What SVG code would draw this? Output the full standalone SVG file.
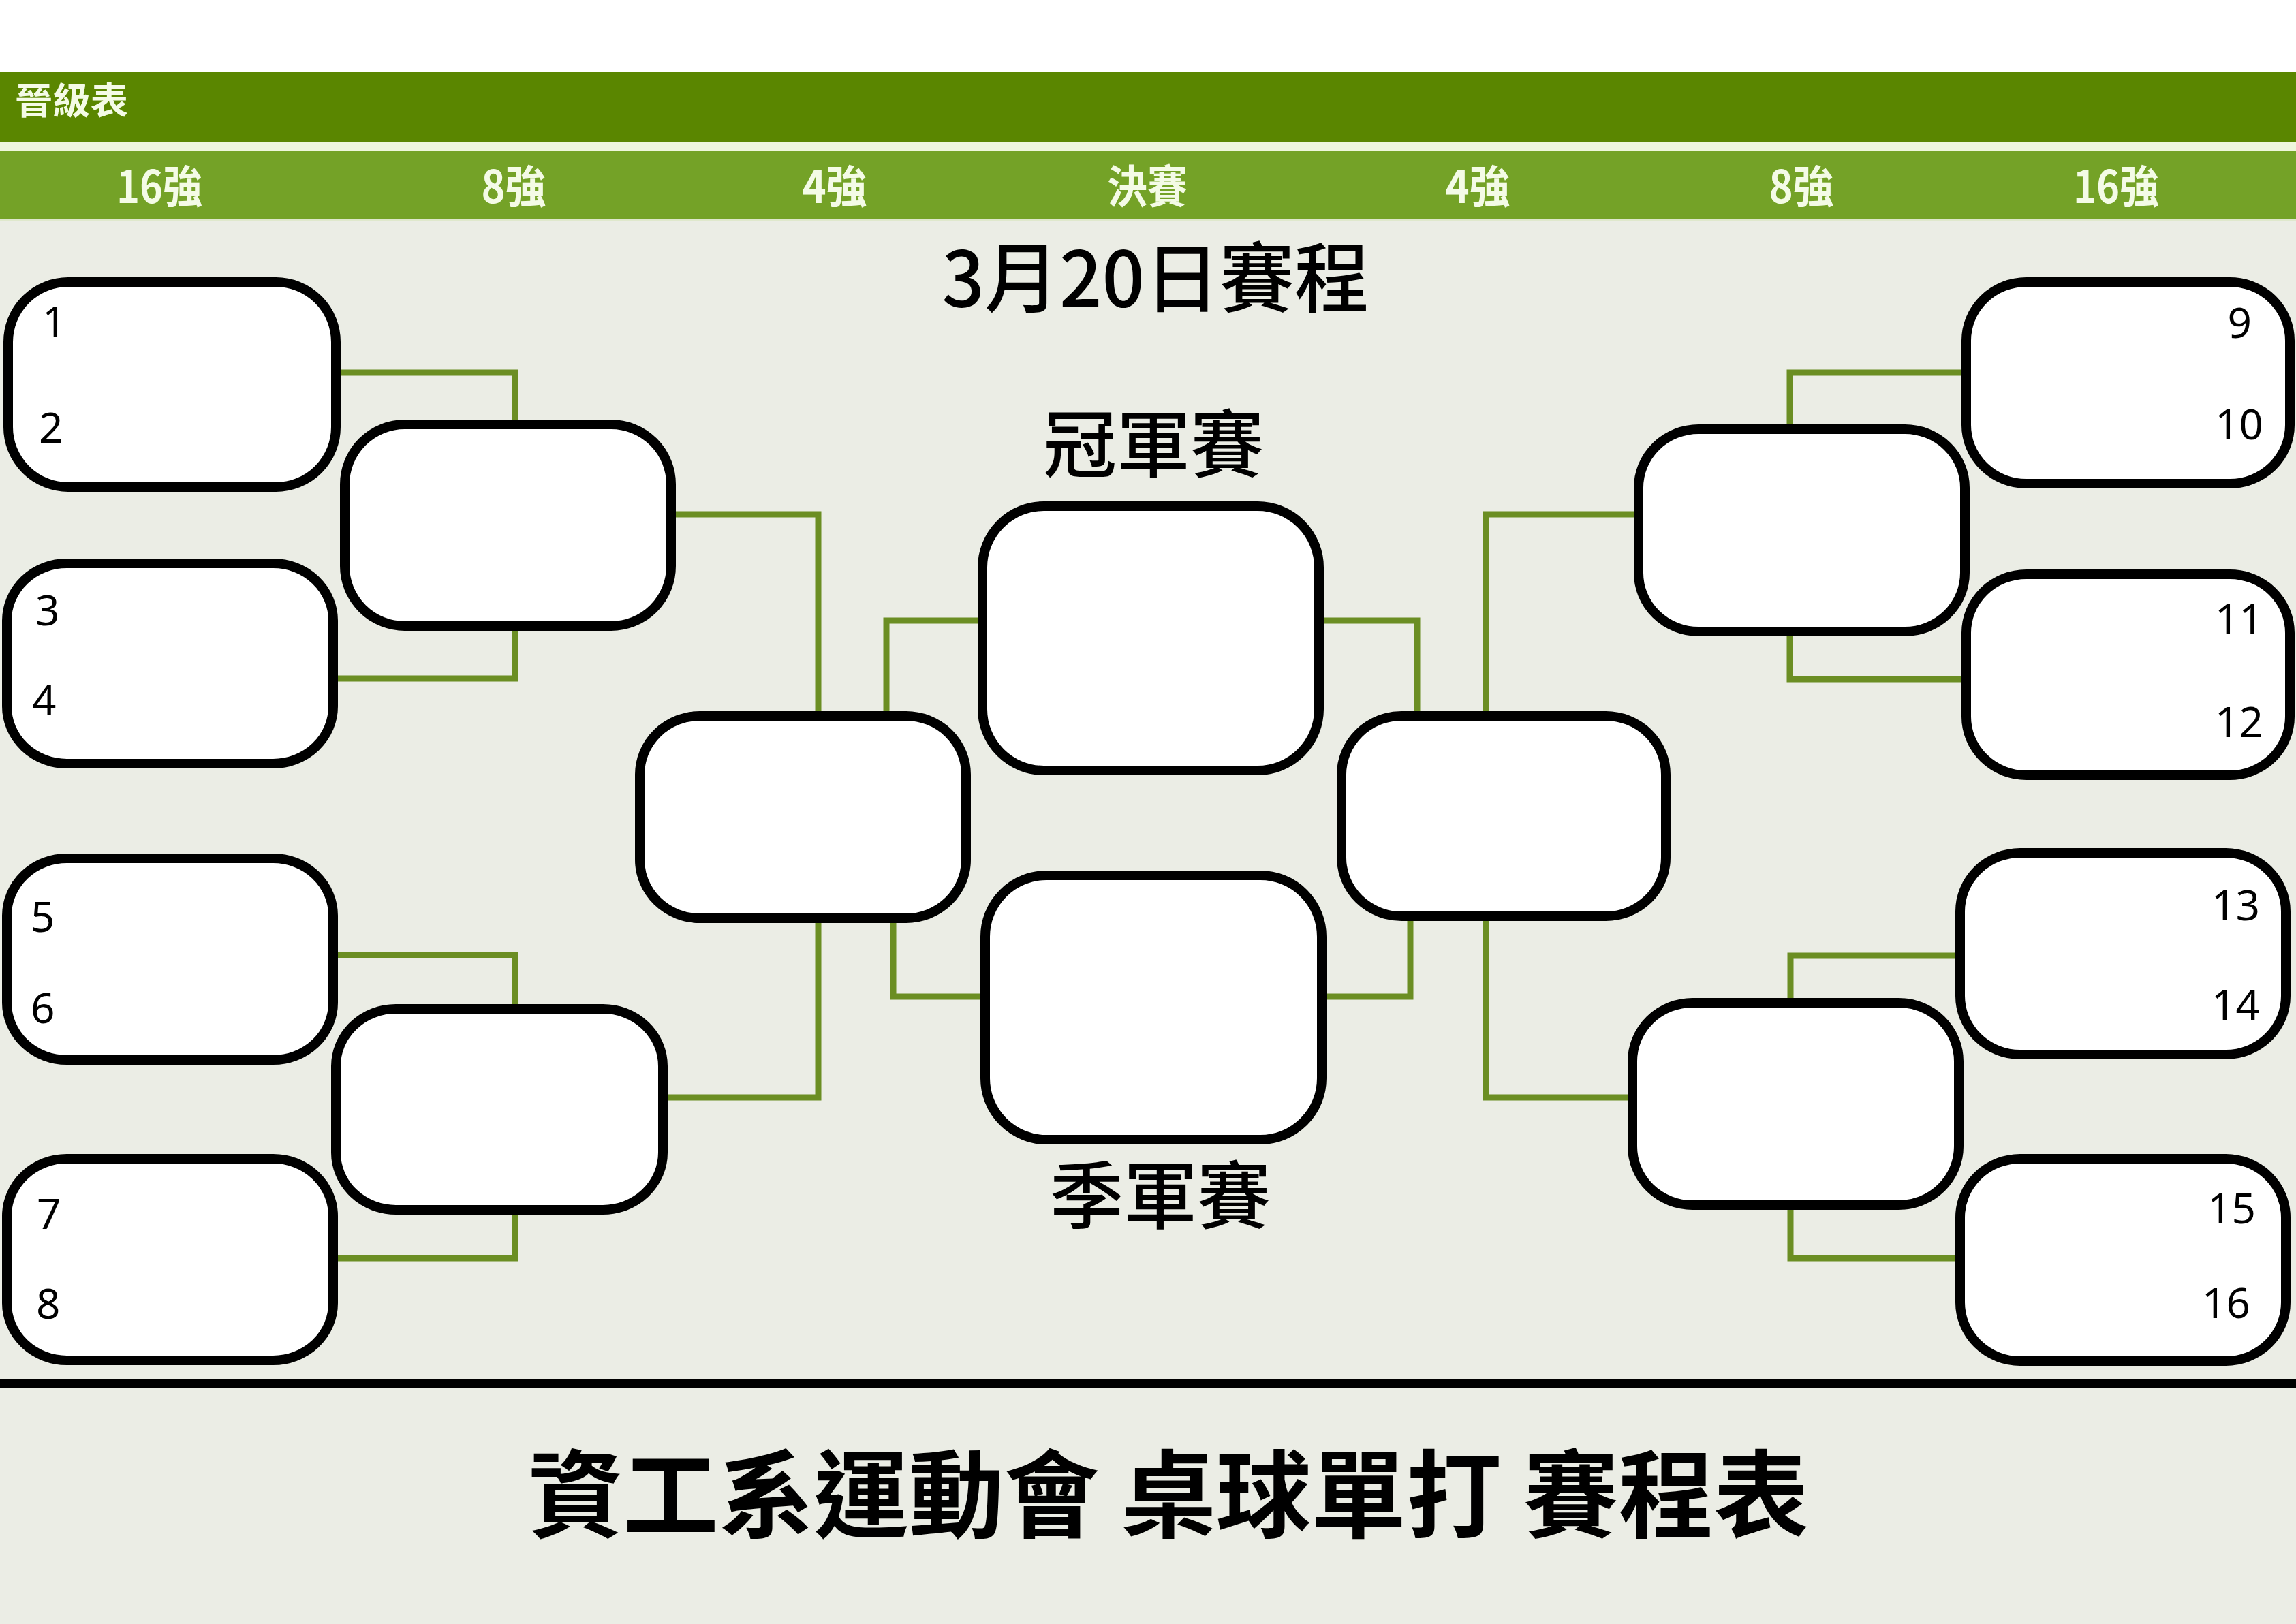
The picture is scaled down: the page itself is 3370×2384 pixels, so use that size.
<svg xmlns="http://www.w3.org/2000/svg" width="3370" height="2384" viewBox="0 0 3370 2384">
<style>
.box{fill:#ffffff;stroke:#000000;stroke-width:14}
.con{fill:none;stroke:#6b8e23;stroke-width:9;stroke-linejoin:miter;stroke-linecap:butt}
.num{font-family:"Noto Sans","Liberation Sans",sans-serif;font-size:62px;fill:#000}
.hdr{font-family:"Noto Sans CJK TC","Noto Sans CJK SC",sans-serif;font-weight:700;font-size:66px;fill:#f4fbe6;text-anchor:middle}
.big{font-family:"Noto Sans CJK TC","Noto Sans CJK SC",sans-serif;font-weight:700;fill:#000;text-anchor:middle}
.mid{font-family:"Noto Sans CJK TC","Noto Sans CJK SC",sans-serif;font-weight:500;fill:#000;text-anchor:middle}
</style>
<rect x="0" y="0" width="3370" height="2384" fill="#ebede5"/>
<rect x="0" y="0" width="3370" height="106" fill="#ffffff"/>
<rect x="0" y="106" width="3370" height="103" fill="#5a8600"/>
<rect x="0" y="209" width="3370" height="12" fill="#eef6dc"/>
<rect x="0" y="221" width="3370" height="100" fill="#74a227"/>
<rect x="0" y="321" width="3370" height="3" fill="#dfe8cc"/>
<text x="22" y="168" font-family="'Noto Sans CJK TC','Noto Sans CJK SC',sans-serif" font-weight="700" font-size="54" fill="#f4fbe6" textLength="166" lengthAdjust="spacingAndGlyphs">晉級表</text>
<g id="header-labels">
<text class="hdr" x="234" y="298" textLength="126" lengthAdjust="spacingAndGlyphs">16強</text>
<text class="hdr" x="754" y="298" textLength="95" lengthAdjust="spacingAndGlyphs">8強</text>
<text class="hdr" x="1225" y="298" textLength="95" lengthAdjust="spacingAndGlyphs">4強</text>
<text class="hdr" x="1684" y="298" textLength="118" lengthAdjust="spacingAndGlyphs">決賽</text>
<text class="hdr" x="2169" y="298" textLength="95" lengthAdjust="spacingAndGlyphs">4強</text>
<text class="hdr" x="2644" y="298" textLength="95" lengthAdjust="spacingAndGlyphs">8強</text>
<text class="hdr" x="3106" y="298" textLength="126" lengthAdjust="spacingAndGlyphs">16強</text>
</g>
<text class="mid" x="1696" y="450" font-size="112" textLength="627" lengthAdjust="spacingAndGlyphs">3月20日賽程</text>
<text class="mid" x="1693" y="692" font-size="108">冠軍賽</text>
<text class="mid" x="1703" y="1795" font-size="108">季軍賽</text>
<g id="connectors">
<path class="con" d="M494 547 H756 V630"/>
<path class="con" d="M494 996 H756 V915"/>
<path class="con" d="M494 1402 H756 V1485"/>
<path class="con" d="M494 1847 H756 V1770"/>
<path class="con" d="M985 755 H1201 V1055"/>
<path class="con" d="M975 1611 H1201 V1345"/>
<path class="con" d="M1301 1055 V911 H1445"/>
<path class="con" d="M1311 1345 V1463 H1450"/>
<path class="con" d="M1935 911 H2080 V1055"/>
<path class="con" d="M1940 1463 H2070 V1345"/>
<path class="con" d="M2181 1055 V755 H2405"/>
<path class="con" d="M2181 1345 V1611 H2396"/>
<path class="con" d="M2627 630 V547 H2886"/>
<path class="con" d="M2627 925 V997 H2886"/>
<path class="con" d="M2628 1475 V1403 H2877"/>
<path class="con" d="M2628 1770 V1847 H2877"/>
</g>
<g id="r16-1"><rect class="box" x="12" y="414" width="481" height="301" rx="88" ry="88"/><text class="num" x="62" y="494">1</text><text class="num" x="57" y="650">2</text></g>
<g id="r16-2"><rect class="box" x="10" y="827" width="479" height="294" rx="88" ry="84"/><text class="num" x="52" y="918">3</text><text class="num" x="47" y="1050">4</text></g>
<g id="r16-3"><rect class="box" x="10" y="1260" width="479" height="296" rx="88" ry="84"/><text class="num" x="45" y="1368">5</text><text class="num" x="45" y="1502">6</text></g>
<g id="r16-4"><rect class="box" x="10" y="1701" width="479" height="296" rx="88" ry="84"/><text class="num" x="54" y="1804">7</text><text class="num" x="53" y="1936">8</text></g>
<g id="qf-1"><rect class="box" x="506" y="623" width="479" height="296" rx="88" ry="88"/></g>
<g id="qf-2"><rect class="box" x="493" y="1481" width="480" height="295" rx="88" ry="84"/></g>
<g id="sf-1"><rect class="box" x="939" y="1051" width="479" height="297" rx="88" ry="86"/></g>
<g id="final"><rect class="box" x="1442" y="743" width="494" height="388" rx="90" ry="90"/></g>
<g id="third"><rect class="box" x="1446" y="1285" width="494" height="388" rx="90" ry="90"/></g>
<g id="sf-2"><rect class="box" x="1969" y="1051" width="476" height="294" rx="88" ry="86"/></g>
<g id="qf-3"><rect class="box" x="2405" y="630" width="479" height="297" rx="88" ry="86"/></g>
<g id="qf-4"><rect class="box" x="2396" y="1472" width="479" height="297" rx="88" ry="86"/></g>
<g id="r16-5"><rect class="box" x="2886" y="414" width="475" height="296" rx="88" ry="86"/><text class="num" x="3305" y="496" text-anchor="end">9</text><text class="num" x="3322" y="645" text-anchor="end">10</text></g>
<g id="r16-6"><rect class="box" x="2886" y="843" width="475" height="295" rx="88" ry="86"/><text class="num" x="3322" y="931" text-anchor="end">11</text><text class="num" x="3322" y="1082" text-anchor="end">12</text></g>
<g id="r16-7"><rect class="box" x="2877" y="1252" width="478" height="296" rx="88" ry="86"/><text class="num" x="3317" y="1351" text-anchor="end">13</text><text class="num" x="3317" y="1497" text-anchor="end">14</text></g>
<g id="r16-8"><rect class="box" x="2877" y="1701" width="478" height="297" rx="88" ry="86"/><text class="num" x="3311" y="1796" text-anchor="end">15</text><text class="num" x="3303" y="1935" text-anchor="end">16</text></g>
<rect x="0" y="2025" width="3370" height="13" fill="#000"/>
<text class="big" x="1715" y="2246" font-size="140" textLength="1880" lengthAdjust="spacingAndGlyphs">資工系運動會 桌球單打 賽程表</text>
</svg>
